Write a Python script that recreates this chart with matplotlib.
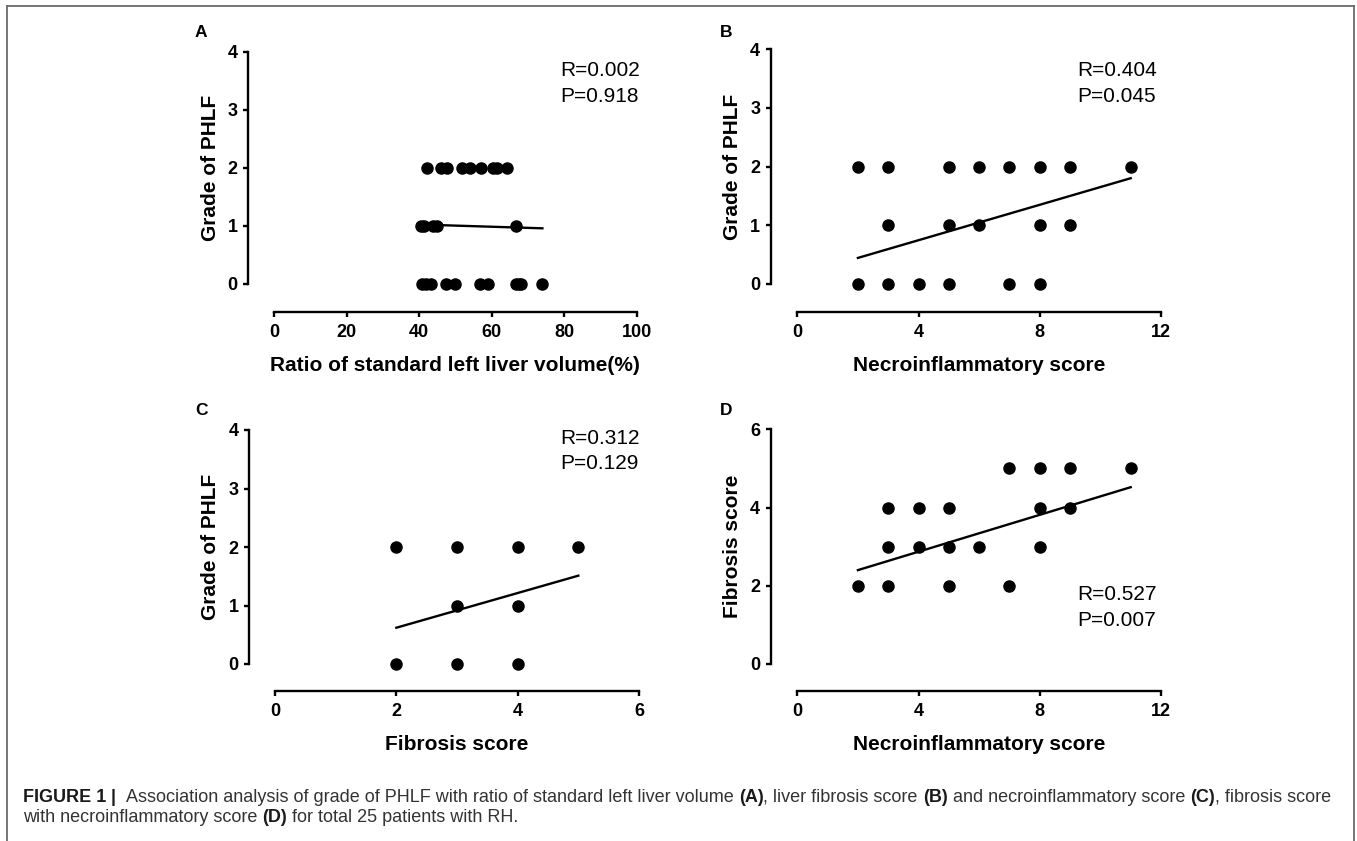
import matplotlib
matplotlib.use("Agg")
import matplotlib.pyplot as plt
from matplotlib.lines import Line2D

plt.rcParams['font.family'] = ['Liberation Sans', 'DejaVu Sans']

W, H = 1357, 841

# ---------------- data ----------------
# Panel A: ratio of standard left liver volume (%) vs grade of PHLF
a_x = [42.1, 46.0, 47.8, 51.9, 54.0, 57.0, 60.5, 61.6, 64.2,
       40.5, 41.3, 43.9, 44.9, 66.7,
       40.9, 41.8, 43.2, 47.4, 49.9, 56.8, 59.1, 66.7, 67.6, 68.2, 74.0]
a_y = [2, 2, 2, 2, 2, 2, 2, 2, 2,
       1, 1, 1, 1, 1,
       0, 0, 0, 0, 0, 0, 0, 0, 0, 0, 0]
a_fit_x = [40.5, 74.0]
a_fit_y = [1.02, 0.955]

# Panel B: necroinflammatory score vs grade of PHLF
b_x = [2, 3, 5, 6, 7, 8, 9, 11,
       3, 5, 6, 8, 9,
       2, 3, 4, 5, 7, 8]
b_y = [2, 2, 2, 2, 2, 2, 2, 2,
       1, 1, 1, 1, 1,
       0, 0, 0, 0, 0, 0]
b_fit_x = [2, 11]
b_fit_y = [0.44, 1.80]

# Panel C: fibrosis score vs grade of PHLF
c_x = [2, 3, 4, 5, 3, 4, 2, 3, 4]
c_y = [2, 2, 2, 2, 1, 1, 0, 0, 0]
c_fit_x = [2, 5]
c_fit_y = [0.62, 1.51]

# Panel D: necroinflammatory score vs fibrosis score
d_x = [7, 8, 9, 11,
       3, 4, 5, 8, 9,
       3, 4, 5, 6, 8,
       2, 3, 5, 7]
d_y = [5, 5, 5, 5,
       4, 4, 4, 4, 4,
       3, 3, 3, 3, 3,
       2, 2, 2, 2]
d_fit_x = [2, 11]
d_fit_y = [2.40, 4.52]

stats = {"A": ("R=0.002", "P=0.918"),
         "B": ("R=0.404", "P=0.045"),
         "C": ("R=0.312", "P=0.129"),
         "D": ("R=0.527", "P=0.007")}

xlabels = {"A": "Ratio of standard left liver volume(%)",
           "B": "Necroinflammatory score",
           "C": "Fibrosis score",
           "D": "Necroinflammatory score"}
ylabels = {"A": "Grade of PHLF", "B": "Grade of PHLF",
           "C": "Grade of PHLF", "D": "Fibrosis score"}
xticks = {"A": [0, 20, 40, 60, 80, 100], "B": [0, 4, 8, 12],
          "C": [0, 2, 4, 6], "D": [0, 4, 8, 12]}
yticks = {"A": [0, 1, 2, 3, 4], "B": [0, 1, 2, 3, 4],
          "C": [0, 1, 2, 3, 4], "D": [0, 2, 4, 6]}

# ---------------- layout (pixels) ----------------
layout = {
    "A": dict(x0=274.0, x1=636.7, ytop=51.7, ybot=283.7, sx=248.3, sy=311.7),
    "B": dict(x0=797.3, x1=1161.0, ytop=49.3, ybot=283.7, sx=770.7, sy=311.7),
    "C": dict(x0=275.0, x1=639.0, ytop=430.0, ybot=664.0, sx=249.3, sy=690.7),
    "D": dict(x0=797.3, x1=1161.0, ytop=429.3, ybot=664.0, sx=770.7, sy=690.7),
}
text_pos = {  # R text left x (px), R baseline (px), P baseline (px)
    "A": (560.0, 76.0, 101.7),
    "B": (1077.7, 76.0, 101.7),
    "C": (560.0, 444.0, 469.3),
    "D": (1077.7, 600.0, 626.0),
}
letter_pos = {"A": (195, 37.3), "B": (720, 37.3), "C": (195, 415), "D": (720, 415)}
ylabel_x = {"A": 210, "B": 733, "C": 210, "D": 733}
xlabel_y = {"A": 365, "B": 365, "C": 744, "D": 744}

data = {"A": (a_x, a_y, a_fit_x, a_fit_y),
        "B": (b_x, b_y, b_fit_x, b_fit_y),
        "C": (c_x, c_y, c_fit_x, c_fit_y),
        "D": (d_x, d_y, d_fit_x, d_fit_y)}

fig = plt.figure(figsize=(W / 100, H / 100), dpi=100)
px2pt = 72 / 100

LW = 1.7
for key in ["A", "B", "C", "D"]:
    L = layout[key]
    rect = [L["x0"] / W, 1 - L["ybot"] / H,
            (L["x1"] - L["x0"]) / W, (L["ybot"] - L["ytop"]) / H]
    ax = fig.add_axes(rect)
    xs, ys, fx, fy = data[key]
    xt, yt = xticks[key], yticks[key]
    ax.set_xlim(xt[0], xt[-1])
    ax.set_ylim(yt[0], yt[-1])
    ax.plot(xs, ys, 'o', color='black', ms=8, mec='black', clip_on=False, zorder=3)
    ax.plot(fx, fy, '-', color='black', lw=LW, clip_on=False, zorder=2)
    for s in ["top", "right"]:
        ax.spines[s].set_visible(False)
    ax.spines["left"].set_position(("outward", (L["x0"] - L["sx"]) * px2pt))
    ax.spines["bottom"].set_position(("outward", (L["sy"] - L["ybot"]) * px2pt))
    ax.spines["left"].set_bounds(yt[0], yt[-1])
    ax.spines["bottom"].set_bounds(xt[0], xt[-1])
    for s in ["left", "bottom"]:
        ax.spines[s].set_linewidth(LW)
    ax.set_xticks(xt)
    ax.set_yticks(yt)
    ax.set_xticklabels([str(v) for v in xt], fontsize=13, fontweight='bold')
    ax.set_yticklabels([str(v) for v in yt], fontsize=13, fontweight='bold')
    ax.tick_params(axis='x', length=5 * px2pt, width=LW, pad=5.5, direction='out')
    ax.tick_params(axis='y', length=5 * px2pt, width=LW, pad=4.0, direction='out')
    ax.patch.set_visible(False)

    ax.set_xlabel(xlabels[key], fontsize=15, fontweight='bold', va='center')
    ax.set_ylabel(ylabels[key], fontsize=15, fontweight='bold', va='center')
    ax.xaxis.set_label_coords(0.5, -(xlabel_y[key] - L["ybot"]) / (L["ybot"] - L["ytop"]))
    ax.yaxis.set_label_coords((ylabel_x[key] - L["x0"]) / (L["x1"] - L["x0"]), 0.5)

    # R / P text in data coordinates
    tx, ry, py = text_pos[key]
    dx = xt[0] + (tx - L["x0"]) / (L["x1"] - L["x0"]) * (xt[-1] - xt[0])
    dry = yt[0] + (L["ybot"] - ry) / (L["ybot"] - L["ytop"]) * (yt[-1] - yt[0])
    dpy = yt[0] + (L["ybot"] - py) / (L["ybot"] - L["ytop"]) * (yt[-1] - yt[0])
    ax.text(dx, dry, stats[key][0], fontsize=15, ha='left', va='baseline')
    ax.text(dx, dpy, stats[key][1], fontsize=15, ha='left', va='baseline')

    lx, ly = letter_pos[key]
    fig.text(lx / W, 1 - ly / H, key, fontsize=12.5, fontweight='bold',
             ha='left', va='baseline')

# ---------------- border (top, left, right) ----------------
bx0, bx1, by0, by1 = 7.3, 1354.0, 6.0, 841.0
border_kw = dict(color='#6a6a6a', lw=1.3, transform=fig.transFigure)
fig.add_artist(Line2D([bx0 / W, bx1 / W], [1 - by0 / H, 1 - by0 / H], **border_kw))
fig.add_artist(Line2D([bx0 / W, bx0 / W], [1 - by0 / H, 1 - by1 / H], **border_kw))
fig.add_artist(Line2D([bx1 / W, bx1 / W], [1 - by0 / H, 1 - by1 / H], **border_kw))

# ---------------- caption ----------------
cap_line1 = [("FIGURE 1", True), (" | ", True),
             (" Association analysis of grade of PHLF with ratio of standard left liver volume ", False),
             ("(A)", True), (", liver fibrosis score ", False), ("(B)", True),
             (" and necroinflammatory score ", False), ("(C)", True),
             (", fibrosis score", False)]
cap_line2 = [("with necroinflammatory score ", False), ("(D)", True),
             (" for total 25 patients with RH.", False)]

renderer = fig.canvas.get_renderer()


def measure(s, fs, bold):
    t = fig.text(0, 0, s, fontsize=fs, fontweight='bold' if bold else 'normal')
    w = t.get_window_extent(renderer).width
    t.remove()
    return w


def line_width(segs, fs):
    total = 0
    for s, b in segs:
        sw = measure("x x", fs, b) - measure("xx", fs, b)
        st = s.strip()
        lead = len(s) - len(s.lstrip())
        trail = len(s) - len(s.rstrip())
        total += (lead + trail) * sw + (measure(st, fs, b) if st else 0)
    return total


def draw_line(segs, x, y, fs, color='#333333'):
    for s, b in segs:
        sw = measure("x x", fs, b) - measure("xx", fs, b)
        st = s.strip()
        lead = len(s) - len(s.lstrip())
        trail = len(s) - len(s.rstrip())
        x += lead * sw
        if st:
            fig.text(x / W, 1 - y / H, st, fontsize=fs,
                     fontweight='bold' if b else 'normal',
                     color='#1a1a1a' if b else color, ha='left', va='baseline')
            x += measure(st, fs, b)
        x += trail * sw


cap_fs = 11.0
target = 1324 - 22.7
wl = line_width(cap_line1, cap_fs)
cap_fs = cap_fs * target / wl
draw_line(cap_line1, 22.7, 801.7, cap_fs)
draw_line(cap_line2, 22.7, 822.0, cap_fs)

fig.savefig("out.png", dpi=100)
